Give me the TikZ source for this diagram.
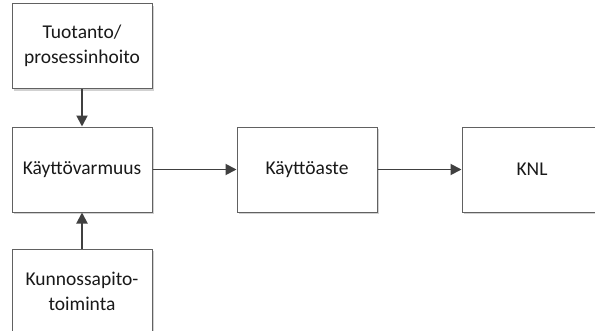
\documentclass[tikz,border=0pt]{standalone}
\usepackage{fontspec}
\setmainfont{Carlito}
\usetikzlibrary{arrows.meta,shadows}
\begin{document}
\begin{tikzpicture}[x=1pt,y=-1pt,
  blockbox/.style={draw=black!62, line width=1pt, fill=white, minimum width=140pt, minimum height=85pt,
    inner sep=0pt, align=center, font=\fontsize{19.5}{24.5}\selectfont, text=black!90,
    drop shadow={shadow xshift=2pt, shadow yshift=-2pt, fill=black!18, opacity=1}},
  flow/.style={draw=black!75, line width=1.9pt, -{Triangle[length=11pt,width=11pt]}}]
\useasboundingbox (0,0) rectangle (595,330);
\clip (0,0) rectangle (595,330);
\fill[white] (0,0) rectangle (595,330);
\node[blockbox] (tuotanto) at (82,46) {Tuotanto/\\prosessinhoito};
\node[blockbox] (kv) at (82,169.5) {Käyttövarmuus};
\node[blockbox] (kp) at (82,291.5) {Kunnossapito-\\toiminta};
\node[blockbox] (ka) at (307,169.5) {Käyttöaste};
\node[blockbox] (knl) at (532,169.5) {KNL};
\draw[flow] (tuotanto) -- (kv);
\draw[flow] (kp) -- (kv);
\draw[flow] (kv) -- (ka);
\draw[flow] (ka) -- (knl);
\end{tikzpicture}
\end{document}
